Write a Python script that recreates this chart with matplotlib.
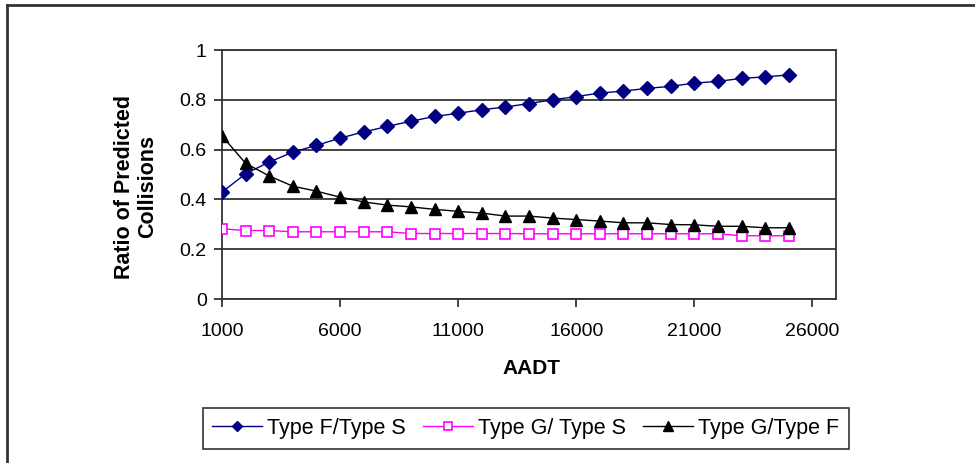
import matplotlib
matplotlib.use("Agg")
import matplotlib.pyplot as plt
from matplotlib.lines import Line2D
from matplotlib.ticker import FuncFormatter

plt.rcParams['font.family'] = ['Liberation Sans', 'DejaVu Sans']

aadt = [1000, 2000, 3000, 4000, 5000, 6000, 7000, 8000, 9000, 10000,
        11000, 12000, 13000, 14000, 15000, 16000, 17000, 18000, 19000, 20000,
        21000, 22000, 23000, 24000, 25000]
f_over_s = [0.429, 0.503, 0.550, 0.590, 0.617, 0.646, 0.671, 0.693, 0.714, 0.733,
            0.746, 0.760, 0.771, 0.785, 0.800, 0.813, 0.827, 0.835, 0.846, 0.854,
            0.867, 0.874, 0.886, 0.892, 0.900]
g_over_s = [0.282, 0.275, 0.275, 0.270, 0.270, 0.270, 0.270, 0.270, 0.263, 0.263,
            0.263, 0.263, 0.263, 0.262, 0.262, 0.262, 0.262, 0.262, 0.262, 0.262,
            0.262, 0.262, 0.254, 0.254, 0.254]
g_over_f = [0.655, 0.545, 0.494, 0.453, 0.433, 0.409, 0.390, 0.377, 0.370, 0.360,
            0.352, 0.345, 0.333, 0.333, 0.325, 0.319, 0.313, 0.306, 0.306, 0.299,
            0.298, 0.292, 0.292, 0.286, 0.286]
series_labels = ["Type F/Type S", "Type G/ Type S", "Type G/Type F"]
xticks = [1000, 6000, 11000, 16000, 21000, 26000]
yticks = [0, 0.2, 0.4, 0.6, 0.8, 1.0]

W, H = 975, 463
fig = plt.figure(figsize=(W / 100, H / 100), dpi=100)
ax = fig.add_axes([222 / W, 1 - 299 / H, (836 - 222) / W, (299 - 50) / H])

ax.plot(aadt, f_over_s, color='#000080', lw=1.0, marker='D', ms=7,
        mfc='#000080', mec='#000080', label=series_labels[0], zorder=4)
ax.plot(aadt, g_over_s, color='#FF00FF', lw=1.0, marker='s', ms=7,
        mfc='white', mec='#FF00FF', mew=1.2, label=series_labels[1], zorder=3)
ax.plot(aadt, g_over_f, color='black', lw=1.0, marker='^', ms=8.5,
        mfc='black', mec='black', label=series_labels[2], zorder=4)

ax.set_xlim(1000, 27000)
ax.set_ylim(0, 1)
ax.set_xticks(xticks)
ax.set_yticks(yticks)
ax.yaxis.set_major_formatter(FuncFormatter(lambda v, p: '%g' % v))
ax.tick_params(axis='both', labelsize=14, direction='out', color='#222222',
               width=1.2, length=6)
ax.tick_params(axis='x', pad=11)
ax.tick_params(axis='y', pad=5)
ax.grid(axis='y', color='#222222', lw=1.2, zorder=1)
ax.set_axisbelow(True)
for s in ax.spines.values():
    s.set_color('#333333')
    s.set_linewidth(1.3)

fig.text(136 / W, 1 - 187 / H, "Ratio of Predicted\nCollisions", rotation=90,
         ha='center', va='center', multialignment='center',
         fontsize=15.5, fontweight='bold', linespacing=1.15)
fig.text(531 / W, 1 - 368.5 / H, "AADT", ha='center', va='center',
         fontsize=15, fontweight='bold')

leg = fig.legend(loc='center', bbox_to_anchor=(526 / W, 1 - 428.5 / H), ncol=3,
                 fontsize=15.5, frameon=True, fancybox=False, edgecolor='black',
                 handlelength=2.3, handletextpad=0.25, columnspacing=0.8,
                 borderpad=0.45, borderaxespad=0, markerscale=0.8)
leg.get_frame().set_linewidth(1.2)

fig.add_artist(Line2D([7 / W, 7 / W], [0, 1 - 5 / H], color='#333333', lw=2))
fig.add_artist(Line2D([7 / W, 1], [1 - 5 / H, 1 - 5 / H], color='#333333', lw=2))

fig.savefig("out.png", dpi=100)
